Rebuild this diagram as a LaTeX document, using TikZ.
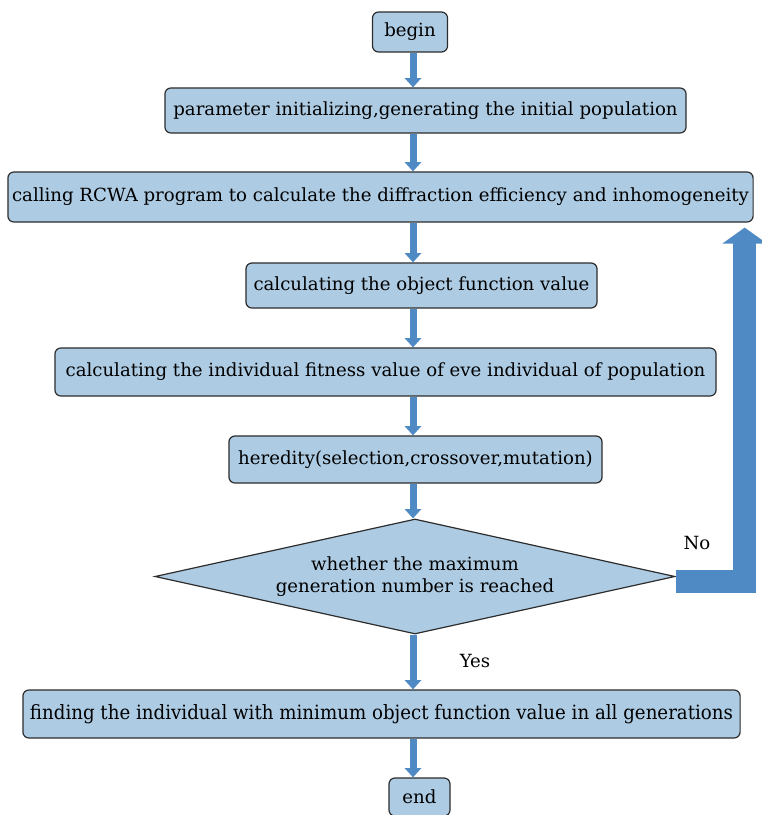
\documentclass[tikz,border=0pt]{standalone}
\usepackage{fontspec}
\setmainfont{DejaVu Serif}
\newfontfamily\narrowserif[FakeStretch=0.925]{DejaVu Serif}
\usetikzlibrary{positioning,calc,shapes.geometric,arrows.meta}
\definecolor{boxblue}{RGB}{173,203,227}
\definecolor{arrowblue}{RGB}{79,138,196}
\definecolor{edgegray}{RGB}{45,45,45}

\begin{document}
\begin{tikzpicture}[x=0.025cm, y=-0.025cm,
    stepbox/.style={draw=edgegray, line width=0.03cm, fill=boxblue, rounded corners=0.15cm,
        inner sep=0pt, font=\fontsize{12.9}{15.5}\selectfont},
    decision/.style={diamond, draw=edgegray, line width=0.03cm, fill=boxblue, shape aspect=4.5,
        inner sep=0pt, align=center, font=\fontsize{12.9}{15.5}\selectfont},
    flow/.style={arrowblue, line width=0.175cm, -{Triangle[width=0.4cm,length=0.23cm]}},
    backflow/.style={arrowblue, line width=0.575cm, line join=miter, -{Triangle[width=1.1cm,length=0.4cm]}}]
    \useasboundingbox (0,0) rectangle (762,815);

    % Process steps
    \node[stepbox, minimum width=1.875cm, minimum height=1cm] (begin) at (410,32) {begin};
    \node[stepbox, minimum width=13.025cm, minimum height=1.125cm] (init) at (425.5,110.5)
        {parameter initializing,generating the initial population};
    \node[stepbox, minimum width=18.625cm, minimum height=1.25cm] (rcwa) at (380.5,197)
        {calling RCWA program to calculate the diffraction efficiency and inhomogeneity};
    \node[stepbox, minimum width=8.775cm, minimum height=1.125cm] (objfun) at (421.5,285.5)
        {calculating the object function value};
    \node[stepbox, minimum width=16.525cm, minimum height=1.2cm] (fitness) at (385.5,372)
        {calculating the individual fitness value of eve individual of population};
    \node[stepbox, minimum width=9.325cm, minimum height=1.175cm] (heredity) at (415.5,459.5)
        {heredity(selection,crossover,mutation)};

    % Decision
    \node[decision, minimum width=13cm, minimum height=2.875cm] (maxgen) at (415,576.5)
        {whether the maximum\\generation number is reached};

    \node[stepbox, minimum width=17.925cm, minimum height=1.2cm, font=\narrowserif\fontsize{14}{16}\selectfont] (best) at (381.5,714)
        {finding the individual with minimum object function value in all generations};
    \node[stepbox, minimum width=1.525cm, minimum height=0.95cm] (end) at (419.5,797) {end};

    % Arrows
    \coordinate (spine) at (413,0);
    \draw[flow] (begin.south -| spine) -- (init.north -| spine);
    \draw[flow] (init.south -| spine) -- (rcwa.north -| spine);
    \draw[flow] (rcwa.south -| spine) -- (objfun.north -| spine);
    \draw[flow] (objfun.south -| spine) -- (fitness.north -| spine);
    \draw[flow] (fitness.south -| spine) -- (heredity.north -| spine);
    \draw[flow] (heredity.south -| spine) -- (maxgen.north -| spine);
    \draw[flow] (maxgen.south -| spine) -- (best.north -| spine);
    \draw[flow] (best.south -| spine) -- (end.north -| spine);

    % Loop back
    \draw[backflow] ($(maxgen.east)+(0,4.5)$) -| ($(rcwa.south east)+(-9,5)$);
    \node[font=\fontsize{12.9}{15.5}\selectfont] (no) at (697,543) {No};
    \node[font=\fontsize{12.9}{15.5}\selectfont] (yes) at (475,661) {Yes};
\end{tikzpicture}
\end{document}
